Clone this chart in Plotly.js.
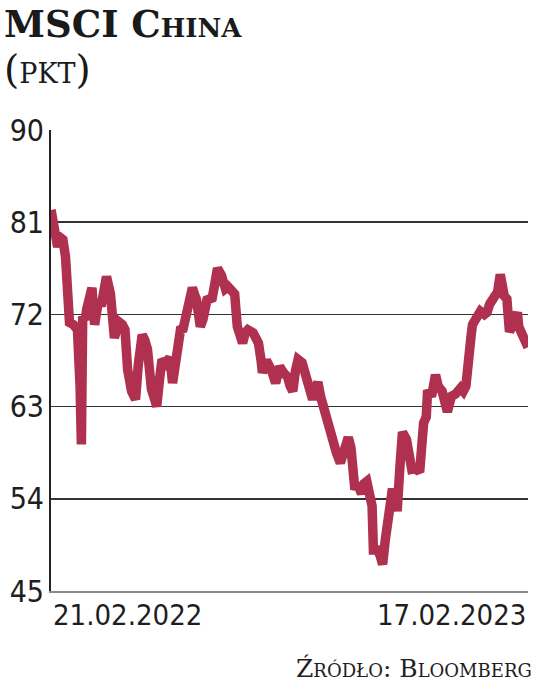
<!DOCTYPE html>
<html>
<head>
<meta charset="utf-8">
<script src="https://cdn.plot.ly/plotly-3.0.1.min.js"></script>
<style>
  html, body { margin: 0; padding: 0; background: #ffffff; }
  #chart { width: 536px; height: 687px; }
</style>
</head>
<body>
<div id="chart"></div>
<script>
// ---- data ----
const dates = [
  "2022-02-21","2022-02-23","2022-02-24","2022-02-26","2022-02-28","2022-03-02","2022-03-04","2022-03-06","2022-03-07","2022-03-10",
  "2022-03-12","2022-03-13","2022-03-15","2022-03-16","2022-03-17","2022-03-19","2022-03-20","2022-03-23","2022-03-24","2022-03-26",
  "2022-03-29","2022-03-31","2022-04-02","2022-04-04","2022-04-07","2022-04-08","2022-04-10","2022-04-13","2022-04-16","2022-04-18",
  "2022-04-20","2022-04-23","2022-04-24","2022-04-26","2022-04-28","2022-05-01","2022-05-03","2022-05-05","2022-05-07","2022-05-08",
  "2022-05-11","2022-05-12","2022-05-14","2022-05-16","2022-05-19","2022-05-22","2022-05-24","2022-05-27","2022-05-30","2022-06-01",
  "2022-06-04","2022-06-08","2022-06-10","2022-06-11","2022-06-14","2022-06-16","2022-06-19","2022-06-23","2022-06-25","2022-06-27",
  "2022-06-30","2022-07-03","2022-07-05","2022-07-08","2022-07-10","2022-07-12","2022-07-14","2022-07-16","2022-07-18","2022-07-20",
  "2022-07-24","2022-07-26","2022-07-28","2022-07-30","2022-07-31","2022-08-03","2022-08-04","2022-08-07","2022-08-10","2022-08-12",
  "2022-08-13","2022-08-16","2022-08-19","2022-08-21","2022-08-23","2022-08-25","2022-08-27","2022-08-30","2022-09-01","2022-09-04",
  "2022-09-07","2022-09-10","2022-09-11","2022-09-13","2022-09-16","2022-09-19","2022-09-22","2022-09-23","2022-09-25","2022-09-28",
  "2022-10-01","2022-10-04","2022-10-06","2022-10-09","2022-10-11","2022-10-14","2022-10-16","2022-10-18","2022-10-20","2022-10-22",
  "2022-10-23","2022-10-26","2022-10-28","2022-10-30","2022-11-01","2022-11-02","2022-11-05","2022-11-06","2022-11-08","2022-11-10",
  "2022-11-12","2022-11-14","2022-11-17","2022-11-18","2022-11-21","2022-11-24","2022-11-27","2022-11-30","2022-12-02","2022-12-03",
  "2022-12-06","2022-12-09","2022-12-11","2022-12-14","2022-12-16","2022-12-18","2022-12-21","2022-12-24","2022-12-28","2022-12-30",
  "2023-01-01","2023-01-03","2023-01-05","2023-01-06","2023-01-09","2023-01-12","2023-01-15","2023-01-17","2023-01-19","2023-01-21",
  "2023-01-23","2023-01-25","2023-01-27","2023-01-28","2023-01-30","2023-02-01","2023-02-03","2023-02-06","2023-02-09","2023-02-10",
  "2023-02-12","2023-02-15","2023-02-17"
];
const msciChina = [
  82.2, 81.0, 80.5, 78.6, 79.5, 79.3, 77.6, 74.0, 71.2, 71.0,
  70.8, 70.5, 65.0, 59.3, 71.8, 71.5, 72.5, 74.0, 74.6, 71.0,
  73.4, 72.8, 74.5, 75.7, 74.0, 72.7, 69.7, 71.3, 71.0, 70.5,
  66.6, 64.5, 63.9, 63.7, 67.0, 70.0, 69.5, 68.6, 66.0, 64.7,
  63.5, 63.0, 65.5, 67.6, 67.2, 67.8, 65.3, 68.5, 70.5, 70.6,
  72.5, 74.6, 73.8, 73.5, 70.8, 71.5, 73.4, 73.6, 75.0, 76.5,
  75.8, 74.5, 74.7, 74.4, 74.0, 70.8, 69.8, 69.2, 70.2, 70.5,
  70.2, 69.5, 69.2, 67.5, 66.3, 67.5, 67.3, 66.5, 65.3, 66.6,
  66.9, 66.3, 65.9, 65.0, 64.5, 66.5, 67.6, 67.3, 66.5, 65.0,
  63.7, 65.0, 65.4, 64.0, 62.4, 61.4, 60.1, 59.0, 58.5, 57.5,
  58.5, 60.0, 59.0, 54.9, 55.5, 54.5, 55.5, 55.7, 54.5, 53.3,
  49.0, 49.0, 48.5, 47.6, 50.0, 51.3, 53.0, 54.6, 54.6, 52.8,
  57.0, 60.5, 59.8, 59.1, 56.9, 57.0, 56.6, 61.4, 62.0, 64.6,
  64.0, 66.1, 65.0, 64.5, 63.5, 62.5, 64.0, 64.2, 64.8, 64.5,
  65.0, 69.2, 70.0, 71.0, 71.5, 72.3, 72.0, 72.2, 73.0, 73.4,
  73.5, 74.2, 75.9, 75.0, 73.8, 73.5, 70.3, 71.2, 72.2, 70.8,
  70.2, 69.5, 68.8
];
const yTicks = [45, 54, 63, 72, 81, 90];
const xLabels = ["21.02.2022", "17.02.2023"];
const titleText = "MSCI China";
const unitText = "(pkt)";
const sourceText = "Źródło: Bloomberg";

// ---- chart ----
const numFont = "Liberation Sans Narrow, DejaVu Sans Condensed, Roboto, sans-serif";
const serifFont = "DejaVu Serif, Liberation Serif, serif";

const trace = {
  x: dates,
  y: msciChina,
  type: "scatter",
  mode: "lines",
  line: { color: "#b0304f", width: 9.5, shape: "linear" },
  hoverinfo: "skip"
};

const headerText = "<span style='font-size:37px;font-weight:bold'>" + titleText + "</span><br>" +
                   "<span style='font-size:39px'>" + unitText + "</span>";

const layout = {
  width: 536,
  height: 687,
  margin: { l: 51, r: 8, t: 130, b: 96, pad: 0 },
  paper_bgcolor: "#ffffff",
  plot_bgcolor: "#ffffff",
  showlegend: false,
  xaxis: {
    type: "date",
    range: [dates[0], dates[dates.length - 1]],
    showgrid: false,
    zeroline: false,
    showticklabels: false,
    ticks: "",
    showline: true,
    linecolor: "#8a8a8a",
    linewidth: 2,
    fixedrange: true
  },
  yaxis: {
    range: [45, 90],
    tickvals: yTicks,
    ticktext: yTicks.map(String),
    showgrid: true,
    gridcolor: "#333333",
    gridwidth: 1.6,
    zeroline: false,
    showline: true,
    linecolor: "#222222",
    linewidth: 2,
    ticks: "",
    ticklabelstandoff: -1,
    tickfont: { family: numFont, size: 30, color: "#1e1e1e" },
    fixedrange: true
  },
  annotations: [
    {
      text: headerText, xref: "paper", yref: "paper", align: "left",
      x: -0.103, y: 1.281, xanchor: "left", yanchor: "top", showarrow: false,
      font: { family: serifFont, size: 35, variant: "small-caps", color: "#1a1a1a" }
    },
    {
      text: xLabels[0], xref: "paper", yref: "paper",
      x: 0, y: -0.01, xanchor: "left", yanchor: "top", showarrow: false,
      font: { family: numFont, size: 29, color: "#1e1e1e" }
    },
    {
      text: xLabels[1], xref: "paper", yref: "paper",
      x: 1, y: -0.01, xanchor: "right", yanchor: "top", showarrow: false,
      font: { family: numFont, size: 29, color: "#1e1e1e" }
    },
    {
      text: sourceText, xref: "paper", yref: "paper",
      x: 1.0126, y: -0.133, xanchor: "right", yanchor: "top", showarrow: false,
      font: { family: serifFont, size: 25, variant: "small-caps", color: "#1e1e1e" }
    }
  ]
};

Plotly.newPlot("chart", [trace], layout, { displayModeBar: false, staticPlot: true });
</script>
</body>
</html>
